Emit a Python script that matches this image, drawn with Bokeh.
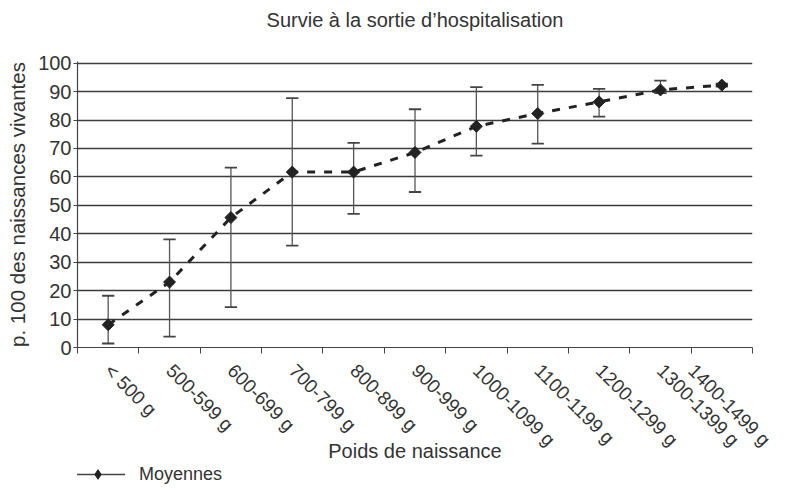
import math
import numpy as np
from bokeh.plotting import figure
from bokeh.models import FixedTicker, Legend, Range1d, Label
from bokeh.layouts import column
from bokeh.embed import file_html
from bokeh.resources import INLINE

title_text = "Survie à la sortie d\u2019hospitalisation"
categories = ["< 500 g", "500-599 g", "600-699 g", "700-799 g", "800-899 g",
              "900-999 g", "1000-1099 g", "1100-1199 g", "1200-1299 g",
              "1300-1399 g", "1400-1499 g"]
means = [8.0, 23.0, 45.7, 61.7, 61.7, 68.6, 77.8, 82.3, 86.4, 90.6, 92.3]
upper = [18.2, 38.0, 63.3, 87.7, 72.0, 83.8, 91.6, 92.4, 91.0, 93.9, 92.8]
lower = [1.4, 3.8, 14.2, 35.8, 47.0, 54.7, 67.5, 71.7, 81.2, 89.5, 91.8]
y_ticks = list(range(0, 101, 10))

FONT = "Liberation Sans"
TXT = "#333333"

n = len(categories)
xc = np.arange(n) + 0.5

# ---- title strip ----
p0 = figure(width=774, height=36, x_range=Range1d(0, 1), y_range=Range1d(0, 1),
            output_backend="svg", toolbar_location=None,
            x_axis_location=None, y_axis_location=None, min_border=0)
p0.title.visible = False
p0.outline_line_color = None
p0.grid.visible = False
p0.add_layout(Label(x=0.5, y=0.45, text=title_text, text_align="center",
                    text_baseline="middle", text_font=FONT, text_font_size="20px",
                    text_color=TXT))

# ---- main plot ----
p = figure(width=774, height=428, x_range=Range1d(0, n), y_range=Range1d(0, 100.6),
           output_backend="svg", toolbar_location=None,
           min_border_left=77, min_border_right=22, min_border_top=25,
           min_border_bottom=116)
p.title.visible = False
p.outline_line_color = None
p.background_fill_color = "white"
p.border_fill_color = "white"

p.xgrid.visible = False
p.ygrid.ticker = FixedTicker(ticks=y_ticks)
p.ygrid.grid_line_color = "#3c3c3c"
p.ygrid.grid_line_width = 1.3

ya = p.yaxis[0]
ya.ticker = FixedTicker(ticks=y_ticks)
ya.axis_label = "p. 100 des naissances vivantes"
ya.axis_label_text_font = FONT
ya.axis_label_text_font_size = "20.5px"
ya.axis_label_text_font_style = "normal"
ya.axis_label_text_color = TXT
ya.axis_label_standoff = 6
ya.major_label_text_font = FONT
ya.major_label_text_font_size = "20px"
ya.major_label_text_color = TXT
ya.major_label_standoff = 2
ya.major_tick_out = 4
ya.major_tick_in = 0
ya.minor_tick_line_color = None
ya.axis_line_color = "#444444"
ya.major_tick_line_color = "#444444"
ya.axis_line_width = 1.2

xa = p.xaxis[0]
xa.ticker = FixedTicker(ticks=list(xc), minor_ticks=list(range(n + 1)))
xa.major_label_overrides = {float(x): c for x, c in zip(xc, categories)}
xa.major_label_orientation = -math.pi / 4
xa.major_label_text_font = FONT
xa.major_label_text_font_size = "19px"
xa.major_label_text_color = TXT
xa.major_label_standoff = 14
xa.major_tick_out = 0
xa.major_tick_in = 0
xa.minor_tick_out = 6
xa.minor_tick_in = 0
xa.minor_tick_line_color = "#444444"
xa.axis_line_color = "#444444"
xa.axis_line_width = 1.2
xa.axis_label = "Poids de naissance"
xa.axis_label_text_font = FONT
xa.axis_label_text_font_size = "20px"
xa.axis_label_text_font_style = "normal"
xa.axis_label_text_color = TXT
xa.axis_label_standoff = -21

# error bars
cap = 0.1
p.segment(x0=xc, y0=lower, x1=xc, y1=upper, line_color="#555555", line_width=1.3)
p.segment(x0=xc - cap, y0=upper, x1=xc + cap, y1=upper, line_color="#444444", line_width=1.8)
p.segment(x0=xc - cap, y0=lower, x1=xc + cap, y1=lower, line_color="#444444", line_width=1.8)

# mean line
p.line(xc, means, line_color="#222222", line_width=3, line_dash="8 9")
p.scatter(xc, means, marker="square", angle=math.pi / 4, size=8.5,
          fill_color="#222222", line_color="#222222")

# ---- legend strip (data kept out of view) ----
p2 = figure(width=774, height=20, x_range=Range1d(-100, -99), y_range=Range1d(-100, -99),
            output_backend="svg", toolbar_location=None,
            x_axis_location=None, y_axis_location=None, min_border=0)
p2.title.visible = False
p2.outline_line_color = None
p2.grid.visible = False
l_line = p2.line(xc, means, line_color="#444444", line_width=1.5)
l_pts = p2.scatter(xc, means, marker="diamond", size=14,
                   fill_color="#222222", line_color="#222222")
leg = Legend(items=[("Moyennes", [l_line, l_pts])], location=(-7, -2))
leg.border_line_color = None
leg.background_fill_alpha = 0
leg.padding = 0
leg.margin = 0
leg.glyph_width = 55
leg.glyph_height = 24
leg.label_height = 18
leg.label_standoff = 14
leg.label_text_font = FONT
leg.label_text_font_size = "18px"
leg.label_text_color = TXT
p2.add_layout(leg, "center")

open("out.html", "w").write(file_html(column(p0, p, p2), INLINE))
